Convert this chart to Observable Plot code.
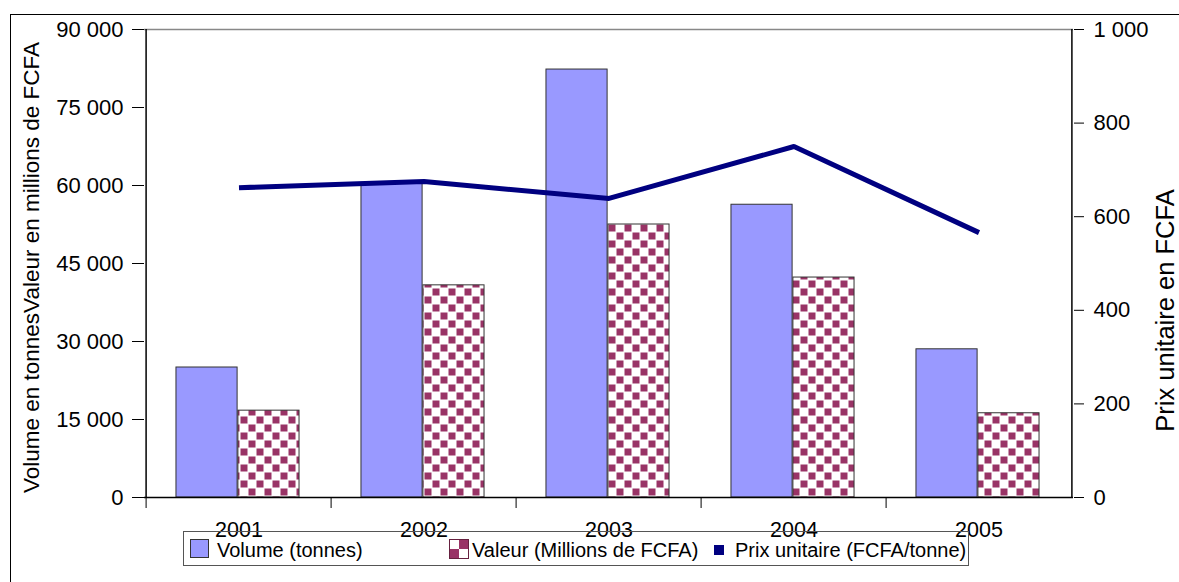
<!DOCTYPE html>
<html><head><meta charset="utf-8">
<script src="https://cdn.jsdelivr.net/npm/d3@7"></script>
<script src="https://cdn.jsdelivr.net/npm/@observablehq/plot@0.6"></script>
<style>
html,body{margin:0;padding:0;background:#fff;overflow:hidden;}
#wrap{position:relative;width:1179px;height:582px;overflow:hidden;font-family:"Liberation Sans",Arial,sans-serif;}
#frame{position:absolute;left:10px;top:14px;width:1200px;height:620px;border:1px solid #000;box-sizing:border-box;pointer-events:none;}
#legend{position:absolute;left:183px;top:531px;width:786px;height:35px;border:1px solid #555;box-sizing:border-box;background:transparent;pointer-events:none;}
.sw{position:absolute;box-sizing:border-box;}
.lt{position:absolute;font-size:20px;line-height:16px;white-space:nowrap;color:#000;}
#chart{position:absolute;left:0;top:0;}
</style>
</head><body>
<div id="wrap"><div id="frame"></div><div id="chart"></div><div id="legend"></div></div>
<script>
const years = ["2001", "2002", "2003", "2004", "2005"];
const volume = [25000, 60500, 82300, 56300, 28500];
const valeur = [16700, 40800, 52500, 42300, 16200];
const prix = [662, 675, 639, 750, 566];
const yTicksLeft = [0, 15000, 30000, 45000, 60000, 75000, 90000];
const yTicksRight = [0, 200, 400, 600, 800, 1000];
const seriesLabels = ["Volume (tonnes)", "Valeur (Millions de FCFA)", "Prix unitaire (FCFA/tonne)"];
const yTitleLeft = "Volume en tonnesValeur en millions de FCFA";
const yTitleRight = "Prix unitaire en FCFA";

const W = 1179, H = 582, mL = 144, mR = 106, mT = 29, mB = 85;
const bw = (W - mL - mR) / years.length;
const k = 90000 / 1000; // right axis (0–1000) mapped onto left axis (0–90 000)
const rows = years.map((y, i) => ({year: y, volume: volume[i], valeur: valeur[i], prix: prix[i]}));
const fmt = d3.formatLocale({decimal: ",", thousands: " ", grouping: [3], currency: ["", ""]}).format(",d");
const font = '"Liberation Sans", Arial, sans-serif';

const chart = Plot.plot({
  width: W, height: H,
  marginLeft: mL, marginRight: mR, marginTop: mT, marginBottom: mB,
  style: {fontFamily: font, color: "#000", background: "transparent", overflow: "visible"},
  x: {type: "band", domain: years, padding: 0, axis: null},
  y: {domain: [0, 90000], axis: null},
  marks: [
    Plot.barY(rows, {x: "year", y: "volume", fill: "#9999ff", stroke: "#333", strokeWidth: 1, insetLeft: bw / 6 - 1, insetRight: bw / 2 + 1}),
    Plot.barY(rows, {x: "year", y: "valeur", fill: "url(#checker)", stroke: "#333", strokeWidth: 1, insetLeft: bw / 2 - 1, insetRight: bw / 6 + 1}),
    Plot.ruleY([90000], {stroke: "#888", strokeWidth: 1.5}),
    Plot.ruleY([0], {stroke: "#000", strokeWidth: 1.5}),
    Plot.ruleX([years[0]], {x: d => d, dx: -bw / 2, y1: 0, y2: 90000, stroke: "#000", strokeWidth: 1.5}),
    Plot.ruleX([years[years.length - 1]], {x: d => d, dx: bw / 2, y1: 0, y2: 90000, stroke: "#000", strokeWidth: 1.5}),
    Plot.line(rows, {x: "year", y: d => d.prix * k, stroke: "#000080", strokeWidth: 5, strokeLinejoin: "miter", strokeLinecap: "butt"}),
    Plot.axisY({anchor: "left", ticks: yTicksLeft, tickFormat: fmt, tickSize: 12, tickPadding: 9, fontSize: 22, label: null}),
    Plot.axisY({anchor: "right", ticks: yTicksRight.map(v => v * k), tickFormat: d => fmt(d / k), tickSize: 10, tickPadding: 10, fontSize: 22, label: null}),
    Plot.axisX({anchor: "bottom", tickSize: 11, tickFormat: () => "", dx: -bw / 2, label: null}),
    Plot.axisX({anchor: "bottom", tickSize: 0, tickPadding: 24, fontSize: 21.5, label: null}),
    Plot.text([yTitleLeft], {frameAnchor: "left", textAnchor: "middle", dx: -113, dy: 4, rotate: -90, fontSize: 22.5}),
    Plot.text([yTitleRight], {frameAnchor: "right", textAnchor: "middle", dx: 92, dy: 47, rotate: -90, fontSize: 25.5})
  ]
});

d3.select(chart).insert("defs", ":first-child").html(
  '<pattern id="checker" patternUnits="userSpaceOnUse" width="16" height="16">' +
  '<rect width="16" height="16" fill="#fff"/>' +
  '<rect x="0.5" y="0.5" width="7" height="7" fill="#993366"/>' +
  '<rect x="8.5" y="8.5" width="7" height="7" fill="#993366"/></pattern>'
);
document.getElementById("chart").appendChild(chart);

// legend
const wrap = d3.select("#wrap");
const checkerCss = "repeating-conic-gradient(#993366 0 25%, #fff 0 50%) 0 0/18px 18px";
const legendItems = [
  {label: seriesLabels[0], sx: 190, sy: 539, sw: 19, bg: "#9999ff", border: "1px solid #333", tx: 217},
  {label: seriesLabels[1], sx: 449, sy: 539, sw: 20, bg: checkerCss, border: "1px solid #66203f", tx: 472},
  {label: seriesLabels[2], sx: 714, sy: 545, sw: 10, bg: "#000080", border: "none", tx: 735}
];
legendItems.forEach(it => {
  wrap.append("div").attr("class", "sw")
    .style("left", it.sx + "px").style("top", it.sy + "px")
    .style("width", it.sw + "px").style("height", it.sw + "px")
    .style("background", it.bg).style("border", it.border);
  wrap.append("div").attr("class", "lt")
    .style("left", it.tx + "px").style("top", "542px").text(it.label);
});
</script>
</body></html>
